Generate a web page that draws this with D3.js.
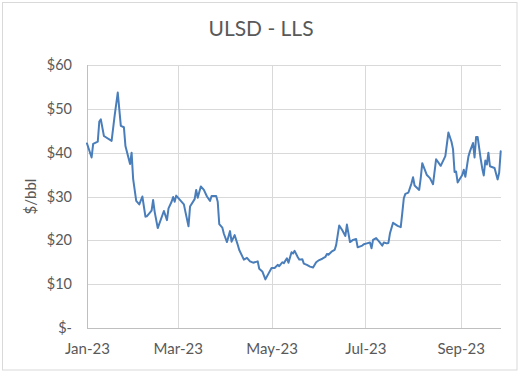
<!DOCTYPE html>
<html>
<head>
<meta charset="utf-8">
<script src="https://cdn.jsdelivr.net/npm/d3@7"></script>
<style>
  html, body { margin: 0; padding: 0; background: #fff; }
  svg { display: block; }
  text { font-family: Lato, "Open Sans", sans-serif; fill: #595959; }
</style>
</head>
<body>
<svg id="chart" width="522" height="373"></svg>
<script>
const title = "ULSD - LLS";
const yAxisTitle = "$/bbl";

const dates = [
  "2023-01-03","2023-01-06","2023-01-07","2023-01-10","2023-01-11","2023-01-12","2023-01-14","2023-01-19","2023-01-21","2023-01-23","2023-01-25","2023-01-27","2023-01-28","2023-01-31",
  "2023-02-01","2023-02-02","2023-02-04","2023-02-06","2023-02-08","2023-02-10","2023-02-11","2023-02-14","2023-02-15","2023-02-16","2023-02-18","2023-02-22","2023-02-24","2023-02-25","2023-02-27","2023-02-28",
  "2023-03-01","2023-03-02","2023-03-04","2023-03-07","2023-03-08","2023-03-10","2023-03-11","2023-03-14","2023-03-15","2023-03-16","2023-03-18","2023-03-20","2023-03-22","2023-03-24","2023-03-25","2023-03-28","2023-03-29","2023-03-30",
  "2023-04-01","2023-04-02","2023-04-04","2023-04-06","2023-04-07","2023-04-09","2023-04-11","2023-04-12","2023-04-15","2023-04-17","2023-04-19","2023-04-21","2023-04-24","2023-04-25","2023-04-27","2023-04-29",
  "2023-05-01","2023-05-03","2023-05-05","2023-05-07","2023-05-08","2023-05-10","2023-05-11","2023-05-13","2023-05-14","2023-05-16","2023-05-17","2023-05-18","2023-05-20","2023-05-21","2023-05-23","2023-05-24","2023-05-26","2023-05-28","2023-05-30",
  "2023-06-01","2023-06-03","2023-06-05","2023-06-07","2023-06-08","2023-06-09","2023-06-11","2023-06-13","2023-06-14","2023-06-16","2023-06-18","2023-06-20","2023-06-21","2023-06-23","2023-06-25","2023-06-27","2023-06-28",
  "2023-07-01","2023-07-02","2023-07-04","2023-07-06","2023-07-07","2023-07-08","2023-07-10","2023-07-12","2023-07-14","2023-07-15","2023-07-17","2023-07-18","2023-07-19","2023-07-21","2023-07-24","2023-07-26","2023-07-27","2023-07-28","2023-07-29","2023-07-31",
  "2023-08-02","2023-08-03","2023-08-04","2023-08-07","2023-08-08","2023-08-09","2023-08-12","2023-08-14","2023-08-16","2023-08-18","2023-08-21","2023-08-24","2023-08-26","2023-08-28","2023-08-29","2023-08-30","2023-08-31",
  "2023-09-01","2023-09-04","2023-09-05","2023-09-06","2023-09-08","2023-09-09","2023-09-11","2023-09-12","2023-09-13","2023-09-14","2023-09-16","2023-09-17","2023-09-18","2023-09-19","2023-09-20","2023-09-21","2023-09-22","2023-09-25","2023-09-27","2023-09-28","2023-09-29"
];

const values = [
  42.1,38.9,42.0,42.5,47.1,47.6,43.8,42.7,48.5,53.7,46.1,45.8,41.5,37.4,
  40.0,34.0,29.0,28.2,30.0,25.4,25.5,26.8,29.2,26.5,22.8,26.7,24.6,27.3,28.8,29.9,
  28.8,30.2,29.4,28.2,26.5,23.2,27.7,29.4,31.5,29.7,32.3,31.5,30.0,29.0,30.1,30.1,28.8,23.7,
  22.9,21.5,19.6,22.1,19.7,21.2,19.0,17.8,15.6,16.0,15.2,14.9,15.2,13.5,12.9,11.1,
  12.4,13.7,13.7,14.4,14.1,15.0,14.8,15.9,14.9,17.3,17.0,17.6,16.2,15.6,15.7,14.7,14.4,14.0,13.8,
  15.0,15.5,15.8,16.2,16.9,16.7,17.4,17.8,18.9,23.4,22.3,21.0,23.6,19.6,20.1,20.3,18.4,
  18.8,19.1,19.3,19.5,18.2,20.1,20.5,19.7,18.8,19.5,19.3,19.4,21.6,24.0,23.3,23.0,26.2,29.6,30.6,30.9,
  33.0,34.4,32.5,31.5,34.2,37.6,34.9,34.2,32.8,38.5,37.0,39.2,44.6,42.5,40.8,35.6,35.7,
  33.2,34.9,36.1,34.5,39.1,40.3,42.2,38.9,43.6,43.6,38.6,36.4,34.8,38.2,37.3,40.0,36.9,36.5,33.9,35.4,40.3
];

const xTickDates = ["2023-01-03","2023-03-03","2023-05-03","2023-07-03","2023-09-03"];
const yTicks = [0,10,20,30,40,50,60];

const parse = d3.timeParse("%Y-%m-%d");
const data = dates.map((d, i) => ({ date: parse(d), value: values[i] }));

const svg = d3.select("#chart");
const W = 522, H = 373;
const plot = { left: 87, right: 500.7, top: 65, bottom: 328 };

// outer chart border
svg.append("rect")
  .attr("x", 2.5).attr("y", 2.5)
  .attr("width", 514.5).attr("height", 367.5)
  .attr("fill", "#fff")
  .attr("stroke", "#d9d9d9").attr("stroke-width", 1);

const x = d3.scaleTime()
  .domain([parse("2023-01-03"), parse("2023-09-29")])
  .range([plot.left, plot.right]);

const y = d3.scaleLinear()
  .domain([0, 60])
  .range([plot.bottom, plot.top]);

// horizontal gridlines
const yAxis = d3.axisLeft(y)
  .tickValues(yTicks)
  .tickSize(-(plot.right - plot.left))
  .tickPadding(15)
  .tickFormat(v => v === 0 ? "$-" : "$" + v);

const gy = svg.append("g")
  .attr("transform", `translate(${plot.left},0)`)
  .call(yAxis);
gy.select(".domain").remove();
gy.selectAll(".tick line").attr("stroke", "#d9d9d9").attr("stroke-width", 1)
  .attr("shape-rendering", "crispEdges");
gy.selectAll(".tick text").attr("font-size", 14.5).attr("fill", "#595959")
  .style("font-family", "Lato, 'Open Sans', sans-serif");

// vertical gridlines + x labels
const xAxis = d3.axisBottom(x)
  .tickValues(xTickDates.map(parse))
  .tickSize(-(plot.bottom - plot.top))
  .tickPadding(15)
  .tickFormat(d3.timeFormat("%b-%y"));

const gx = svg.append("g")
  .attr("transform", `translate(0,${plot.bottom})`)
  .call(xAxis);
gx.select(".domain").remove();
gx.selectAll(".tick line").attr("stroke", "#d9d9d9").attr("stroke-width", 1)
  .attr("shape-rendering", "crispEdges");
gx.selectAll(".tick text").attr("font-size", 15).attr("fill", "#595959")
  .style("font-family", "Lato, 'Open Sans', sans-serif");

// axis lines
svg.append("line")
  .attr("x1", plot.left).attr("x2", plot.left)
  .attr("y1", plot.top).attr("y2", plot.bottom)
  .attr("stroke", "#bfbfbf").attr("shape-rendering", "crispEdges");
svg.append("line")
  .attr("x1", plot.left).attr("x2", plot.right)
  .attr("y1", plot.bottom).attr("y2", plot.bottom)
  .attr("stroke", "#bfbfbf").attr("shape-rendering", "crispEdges");

// series line
const line = d3.line()
  .x(d => x(d.date))
  .y(d => y(d.value));

svg.append("path")
  .datum(data)
  .attr("d", line)
  .attr("fill", "none")
  .attr("stroke", "#4a7ebb")
  .attr("stroke-width", 2)
  .attr("stroke-linejoin", "round")
  .attr("stroke-linecap", "round");

// title
svg.append("text")
  .attr("x", 261).attr("y", 36)
  .attr("text-anchor", "middle")
  .attr("font-size", 21)
  .text(title);

// y axis title
svg.append("text")
  .attr("transform", `translate(36,${(plot.top + plot.bottom) / 2}) rotate(-90)`)
  .attr("text-anchor", "middle")
  .attr("font-size", 15)
  .text(yAxisTitle);
</script>
</body>
</html>
